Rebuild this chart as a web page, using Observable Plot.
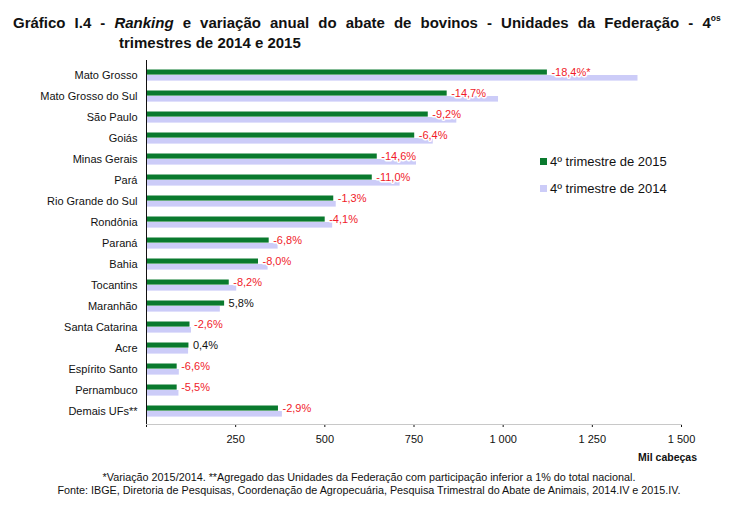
<!DOCTYPE html>
<html>
<head>
<meta charset="utf-8">
<script src="https://cdn.jsdelivr.net/npm/d3@7"></script>
<script src="https://cdn.jsdelivr.net/npm/@observablehq/plot@0.6"></script>
<style>
  body { margin: 0; background: #fff; font-family: "Liberation Sans", Arial, sans-serif; }
  #wrap { position: relative; width: 748px; height: 520px; overflow: hidden; }
  #title { height: 56px; box-sizing: border-box; padding-top: 13px; padding-left: 13px;
           font-weight: bold; font-size: 15px; line-height: 20px; color: #111; }
  #title .l1 { word-spacing: 4.9px; white-space: nowrap; }
  #title sup { font-size: 8.5px; vertical-align: 7px; line-height: 0; word-spacing: 0; }
  #title .l2 { padding-left: 106px; }
  #legend { position: absolute; left: 540px; top: 148px; font-size: 13px; color: #111; }
  #legend .item { display: flex; align-items: center; height: 27px; }
  #legend .sw { width: 7px; height: 7px; margin-right: 3px; }
  #unit { position: absolute; right: 51px; top: 451px; font-weight: bold; font-size: 10.5px; color: #111; }
  #foot { position: absolute; left: 0; width: 738px; top: 471px; text-align: center;
          font-size: 10.8px; line-height: 12.5px; color: #111; white-space: nowrap; }
</style>
</head>
<body>
<div id="wrap">
  <div id="title">
    <div class="l1">Gráfico I.4 - <i>Ranking</i> e variação anual do abate de bovinos - Unidades da Federação - 4<sup>os</sup></div>
    <div class="l2">trimestres de 2014 e 2015</div>
  </div>
  <div id="chart"></div>
  <div id="legend"></div>
  <div id="unit">Mil cabeças</div>
  <div id="foot">
    <div>*Variação 2015/2014. **Agregado das Unidades da Federação com participação inferior a 1% do total nacional.</div>
    <div>Fonte: IBGE, Diretoria de Pesquisas, Coordenação de Agropecuária, Pesquisa Trimestral do Abate de Animais, 2014.IV e 2015.IV.</div>
  </div>
</div>
<script>
const ufs = ["Mato Grosso","Mato Grosso do Sul","São Paulo","Goiás","Minas Gerais","Pará","Rio Grande do Sul","Rondônia","Paraná","Bahia","Tocantins","Maranhão","Santa Catarina","Acre","Espírito Santo","Pernambuco","Demais UFs**"];
const v2015 = [1124, 843, 790, 752, 647, 633, 525, 501, 344, 314, 232, 219, 122, 119, 86, 86, 370];
const v2014 = [1378, 987, 870, 804, 757, 711, 532, 522, 369, 341, 253, 207, 126, 118, 92, 91, 381];
const variacao = ["-18,4%*","-14,7%","-9,2%","-6,4%","-14,6%","-11,0%","-1,3%","-4,1%","-6,8%","-8,0%","-8,2%","5,8%","-2,6%","0,4%","-6,6%","-5,5%","-2,9%"];
const xTicks = [0, 250, 500, 750, 1000, 1250, 1500];
const series = ["4º trimestre de 2015", "4º trimestre de 2014"];
const colors = ["#0a7a2e", "#ccccf8"];

const rows = ufs.map((uf, i) => ({uf, a2015: v2015[i], a2014: v2014[i], label: variacao[i]}));
const fmt = d => d === 0 ? "" : d3.format(",")(d).replace(/,/g, " ");

const chart = Plot.plot({
  width: 748,
  height: 414,
  marginTop: 4,
  marginBottom: 46,
  marginLeft: 146,
  marginRight: 67,
  style: {fontSize: "11px", fontFamily: "'Liberation Sans', Arial, sans-serif", color: "#111", background: "white"},
  x: {domain: [0, 1500], ticks: xTicks, tickFormat: fmt, tickSize: 3, tickPadding: 8, label: null},
  y: {domain: ufs, paddingInner: 0, paddingOuter: 0, tickSize: 0, tickPadding: 9, label: null},
  marks: [
    Plot.barX(rows, {y: "uf", x: "a2014", fill: colors[1], insetTop: 11, insetBottom: 4.4}),
    Plot.barX(rows, {y: "uf", x: "a2015", fill: colors[0], insetTop: 5.5, insetBottom: 10.4}),
    Plot.text(rows, {y: "uf", x: "a2015", text: "label", dx: 4, dy: -2.5, textAnchor: "start",
      fontSize: 11, fill: d => d.label.startsWith("-") ? "#f01a2a" : "#111",
      stroke: "white", strokeWidth: 3, paintOrder: "stroke"}),
    Plot.frame({anchor: "bottom", stroke: "#c8c8c8"}),
    Plot.ruleX([0], {stroke: "#111"})
  ]
});
document.getElementById("chart").appendChild(chart);

const leg = document.getElementById("legend");
series.forEach((s, i) => {
  const it = document.createElement("div");
  it.className = "item";
  const sw = document.createElement("span");
  sw.className = "sw";
  sw.style.background = colors[i];
  const t = document.createElement("span");
  t.textContent = s;
  it.appendChild(sw); it.appendChild(t);
  leg.appendChild(it);
});
</script>
</body>
</html>
